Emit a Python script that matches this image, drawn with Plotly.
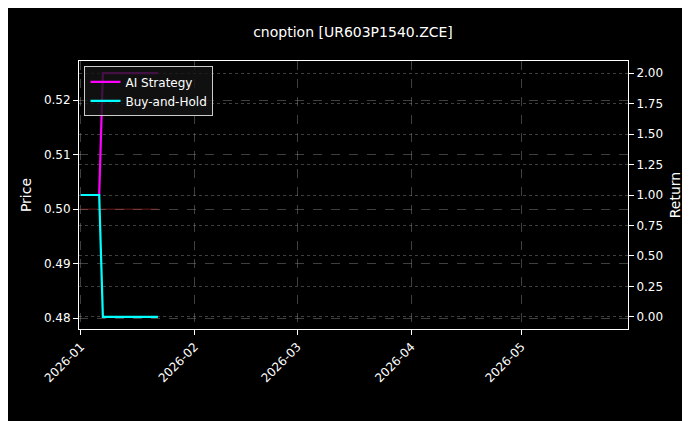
import plotly.graph_objects as go

dates = ["2026-01-01","2026-01-02","2026-01-05","2026-01-06","2026-01-07","2026-01-08",
         "2026-01-09","2026-01-12","2026-01-13","2026-01-14","2026-01-15","2026-01-16",
         "2026-01-19","2026-01-20","2026-01-21","2026-01-22"]
price = [0.50]*16
ai_strategy = [1.0,1.0,1.0,1.0,2.0,2.0,2.0,2.0,2.0,2.0,2.0,2.0,2.0,2.0,2.0,2.0]
buy_hold    = [1.0,1.0,1.0,1.0,0.0,0.0,0.0,0.0,0.0,0.0,0.0,0.0,0.0,0.0,0.0,0.0]
price_ticks = [0.48,0.49,0.50,0.51,0.52]
ret_ticks = [0,0.25,0.5,0.75,1.0,1.25,1.5,1.75,2.0]

fig = go.Figure()
fig.add_trace(go.Scatter(x=dates, y=price, name="Price", mode="lines", showlegend=False,
                         line=dict(color="rgba(255,60,60,0.4)", width=1), yaxis="y"))
fig.add_trace(go.Scatter(x=dates, y=ai_strategy, name="AI Strategy", mode="lines",
                         line=dict(color="#ff00ff", width=2.2), yaxis="y2"))
fig.add_trace(go.Scatter(x=dates, y=buy_hold, name="Buy-and-Hold", mode="lines",
                         line=dict(color="#00ffff", width=2.2), yaxis="y2"))

grid = "rgba(140,140,140,0.45)"
fig.update_layout(
    width=690, height=421, paper_bgcolor="black", plot_bgcolor="black",
    font=dict(family="DejaVu Sans", color="white", size=12),
    margin=dict(l=71, r=70, t=53, b=100, autoexpand=False),
    title=dict(text="cnoption [UR603P1540.ZCE]", x=0.5, xanchor="center", y=0.955, font=dict(size=14)),
    showlegend=True,
    legend=dict(x=0.01, y=0.98, xanchor="left", yanchor="top", bgcolor="rgba(20,20,20,0.8)",
                bordercolor="#cccccc", borderwidth=1, font=dict(size=12)),
    xaxis=dict(range=["2025-12-31 12:00","2026-05-30"], tickformat="%Y-%m", dtick="M1",
               tick0="2026-01-01", tickangle=-45, showgrid=True, gridcolor=grid, griddash="dash",
               showline=True, linecolor="white", mirror=True, ticks="outside", tickcolor="white",
               zeroline=False, automargin=False),
    yaxis=dict(title=dict(text="Price", standoff=8), range=[0.478, 0.5272], tickvals=price_ticks,
               tickformat=".2f", showgrid=True, gridcolor=grid, griddash="dash",
               showline=True, linecolor="white", mirror=True, ticks="outside", tickcolor="white",
               zeroline=False, automargin=False),
    yaxis2=dict(title=dict(text="Return", standoff=8), overlaying="y", side="right", range=[-0.1, 2.1],
                tickvals=ret_ticks, tickformat=".2f", showgrid=True, gridcolor=grid, griddash="dot",
                ticks="outside", tickcolor="white", zeroline=False, automargin=False),
)
fig.write_html("out.html")
